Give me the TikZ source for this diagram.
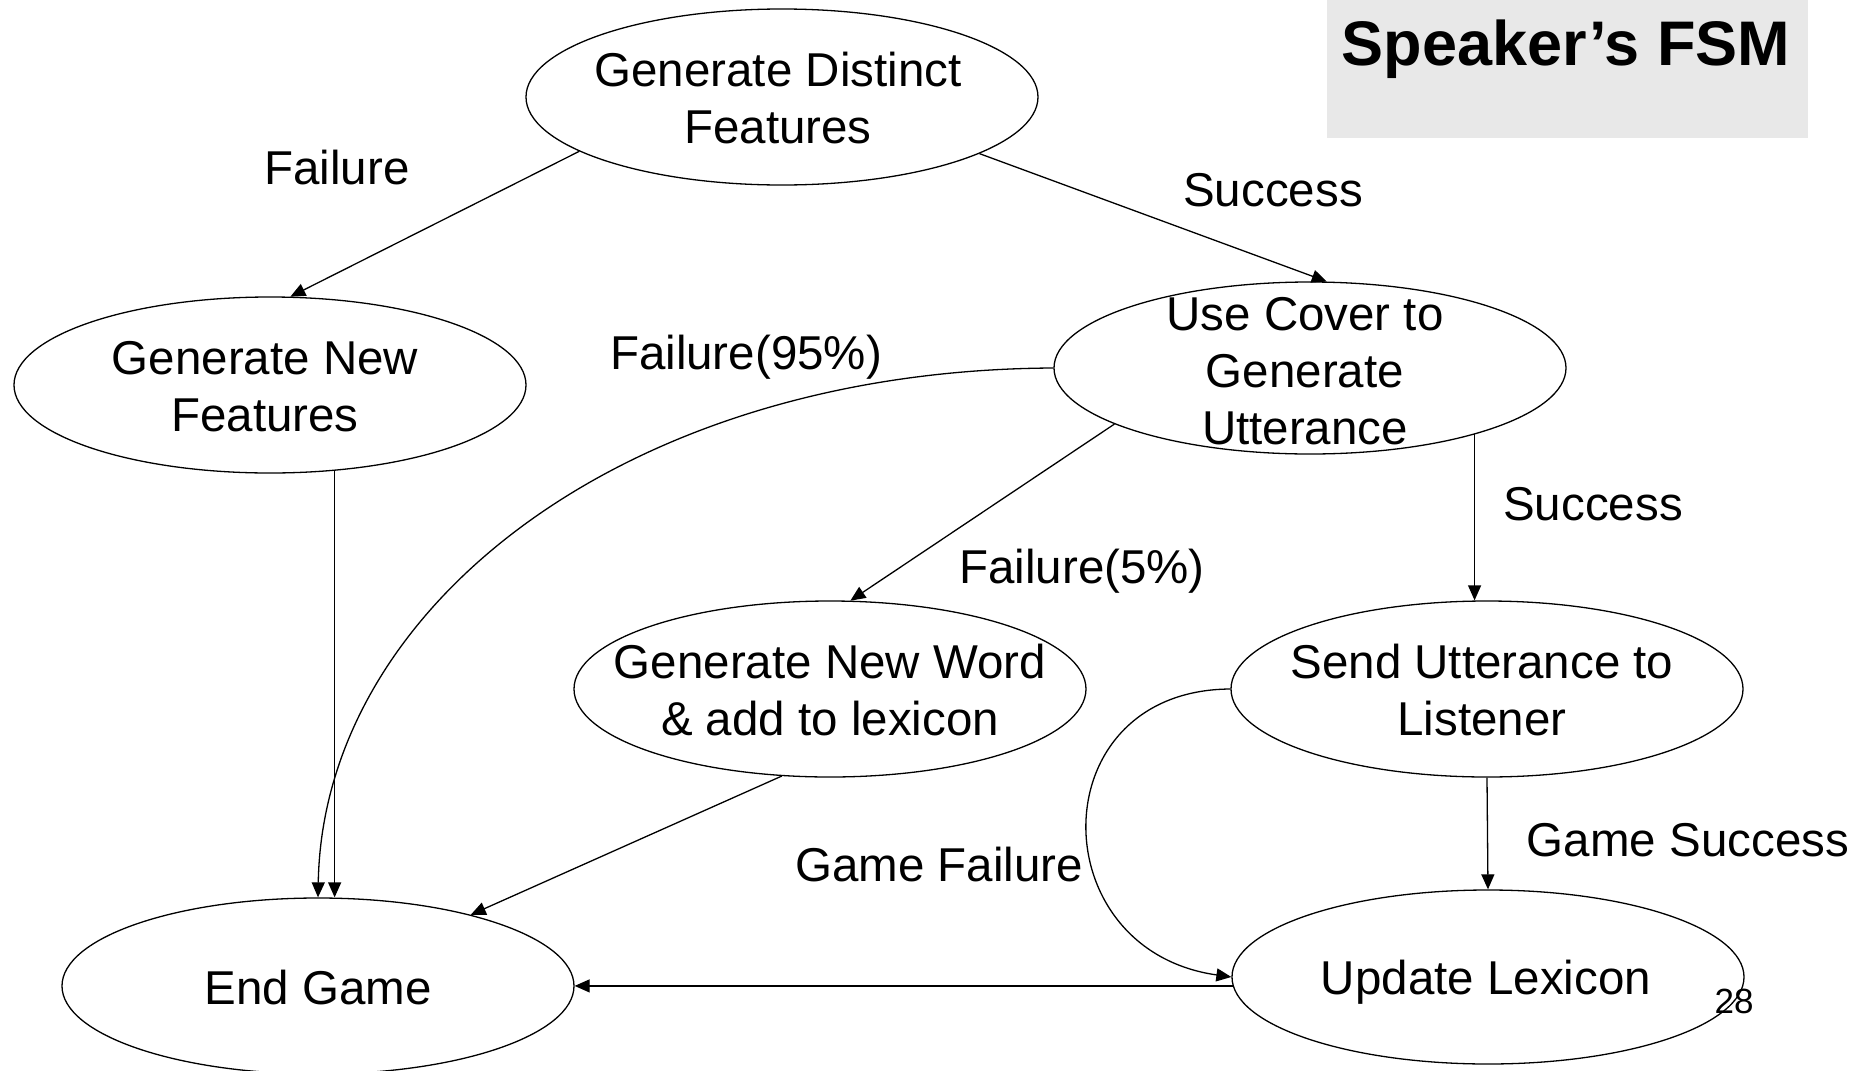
\documentclass[tikz,border=0pt]{standalone}
\usepackage{fontspec}
\setmainfont{Liberation Sans}
\usetikzlibrary{shapes.geometric,arrows.meta}
\begin{document}
\begin{tikzpicture}[x=1pt,y=-1pt,
  state/.style={ellipse,draw,line width=1.3pt,minimum width=512pt,minimum height=176pt,inner sep=0pt},
  txt/.style={inner sep=0pt,align=center,font=\fontsize{47.5}{57}\selectfont},
  lbl/.style={inner sep=0pt,font=\fontsize{47.5}{57}\selectfont},
  arr/.style={line width=1.3pt,-{Triangle[length=15pt,width=13pt]}}]
\useasboundingbox (0,0) rectangle (1872,1071);
% title
\fill[fill={rgb,255:red,232;green,232;blue,232}] (1327,0) rectangle (1808,138);
\node[anchor=base,inner sep=0pt,font=\fontsize{63}{70}\selectfont\bfseries] (title) at (1566,65) {Speaker’s FSM};
% states
\node[state] (gdf) at (782,97) {};
\node[txt] (gdft) at (778,98) {Generate Distinct\\Features};
\node[state] (gnf) at (270,385) {};
\node[txt] (gnft) at (265,387) {Generate New\\Features};
\node[state,minimum height=172pt] (uc) at (1310,368) {};
\node[txt] (uct) at (1305,371) {Use Cover to\\Generate\\Utterance};
\node[state] (gnw) at (830,689) {};
\node[txt] (gnwt) at (830,690) {Generate New Word\\\& add to lexicon};
\node[state] (su) at (1487,689) {};
\node[txt] (sut) at (1482,690) {Send Utterance to\\Listener};
\node[state,minimum height=174pt] (ul) at (1488,977) {};
\node[txt] (ult) at (1486,982) {Update Lexicon};
\node[state] (eg) at (318,986) {};
\node[txt] (egt) at (318,988) {End Game};
% connectors
\draw[arr] (gdf.195.6) -- (gnf.77);
\draw[arr] (gdf.344) -- (uc.79);
\draw[arr] (gnf.307) -- (gnf.307 |- eg.north);
\draw[arr] (uc.west) .. controls (625,370) and (323,607) .. (eg.north);
\draw[arr] (uc.196.6) -- (gnw.77.5);
\draw[arr] (uc.338.4) -- (uc.338.4 |- su.north);
\draw[arr] (gnw.241.4) -- (eg.25);
\draw[arr] (su.south) -- (ul.north);
\draw[arr] (su.west) .. controls (1040,690) and (1040,950) .. (ul.west);
\draw[arr] (ul.182) -- (ul.182 -| eg.east);
% labels
\node[lbl] (l1) at (337,168) {Failure};
\node[lbl] (l2) at (1273,190) {Success};
\node[lbl] (l3) at (746,357) {Failure(95\%)};
\node[lbl] (l4) at (1593,504) {Success};
\node[lbl] (l5) at (1082,571) {Failure(5\%)};
\node[lbl] (l6) at (1688,840) {Game Success};
\node[lbl] (l7) at (939,865) {Game Failure};
\node[inner sep=0pt,font=\fontsize{35}{40}\selectfont] (pg) at (1734,1001) {28};
\end{tikzpicture}
\end{document}
